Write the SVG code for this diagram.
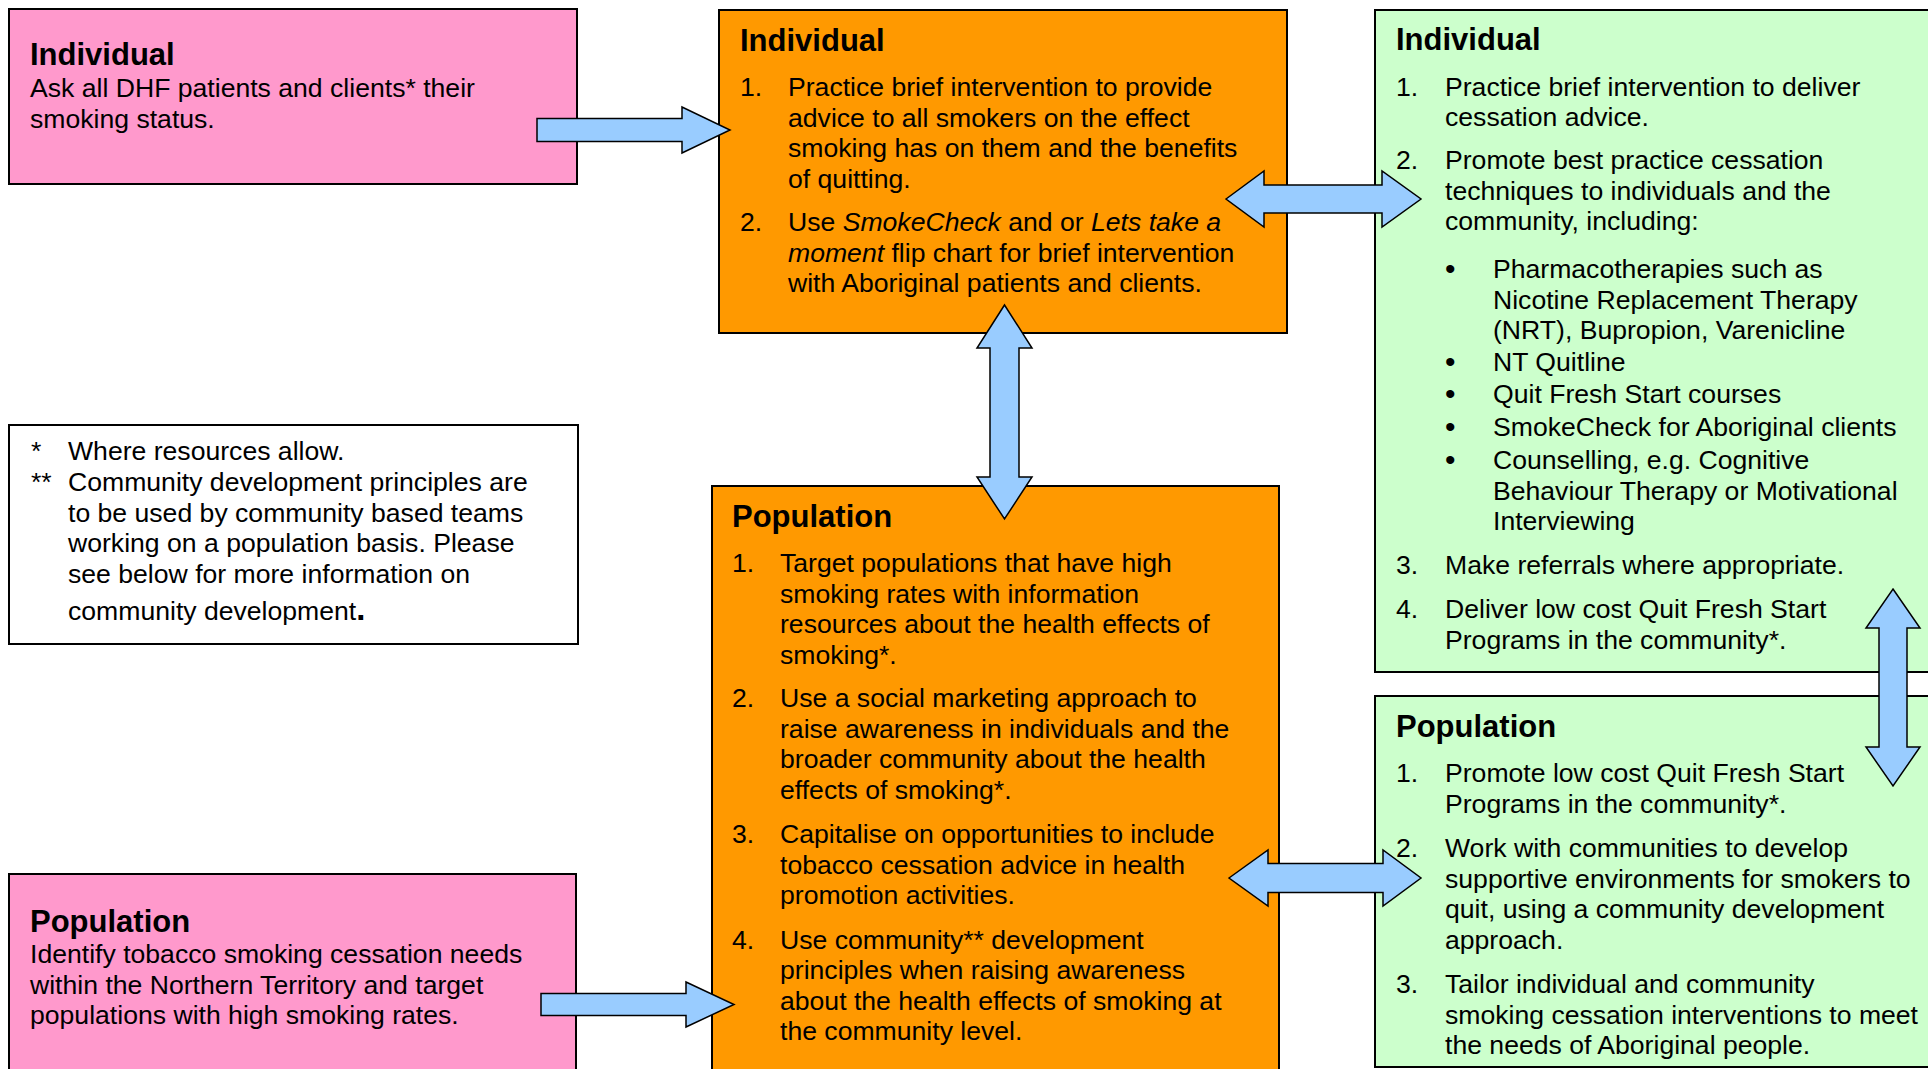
<svg xmlns="http://www.w3.org/2000/svg" width="1928" height="1069" viewBox="0 0 1928 1069">
<style>
.box{stroke:#000;stroke-width:2}
.pink{fill:#FF99CC}
.orange{fill:#FF9900}
.green{fill:#CCFFCC}
.note{fill:#FFFFFF}
text{font-family:"Liberation Sans",Arial,Helvetica,sans-serif;fill:#000}
.t{font-size:31px;font-weight:bold}
.b{font-size:26.6px}
.bul{font-size:30px}
.arrow{fill:#99CCFF;stroke:#000;stroke-width:1.5;stroke-linejoin:miter}
</style>
<rect width="1928" height="1069" fill="#FFFFFF"/>

<g id="pink-individual">
<rect class="box pink" x="9" y="9" width="568" height="175"/>
<text class="t" x="30" y="65">Individual</text>
<text class="b" x="30" y="97">Ask all DHF patients and clients* their</text>
<text class="b" x="30" y="127.6">smoking status.</text>
</g>

<g id="pink-population">
<rect class="box pink" x="9" y="874" width="567" height="205"/>
<text class="t" x="30" y="932">Population</text>
<text class="b" x="30" y="963">Identify tobacco smoking cessation needs</text>
<text class="b" x="30" y="993.6">within the Northern Territory and target</text>
<text class="b" x="30" y="1024.2">populations with high smoking rates.</text>
</g>

<g id="footnote">
<rect class="box note" x="9" y="425" width="569" height="219"/>
<text class="b" x="31" y="460">*</text>
<text class="b" x="68" y="460">Where resources allow.</text>
<text class="b" x="31" y="491">**</text>
<text class="b" x="68" y="491">Community development principles are</text>
<text class="b" x="68" y="521.6">to be used by community based teams</text>
<text class="b" x="68" y="552.2">working on a population basis. Please</text>
<text class="b" x="68" y="582.8">see below for more information on</text>
<text class="b" x="68" y="620">community development<tspan font-size="33" font-weight="bold">.</tspan></text>
</g>

<g id="orange-individual">
<rect class="box orange" x="719" y="10" width="568" height="323"/>
<text class="t" x="740" y="51">Individual</text>
<text class="b" x="740" y="96">1.</text>
<text class="b" x="788" y="96">Practice brief intervention to provide</text>
<text class="b" x="788" y="126.6">advice to all smokers on the effect</text>
<text class="b" x="788" y="157.2">smoking has on them and the benefits</text>
<text class="b" x="788" y="187.8">of quitting.</text>
<text class="b" x="740" y="231">2.</text>
<text class="b" x="788" y="231">Use <tspan font-style="italic">SmokeCheck</tspan> and or <tspan font-style="italic">Lets take a</tspan></text>
<text class="b" x="788" y="261.6"><tspan font-style="italic">moment</tspan> flip chart for brief intervention</text>
<text class="b" x="788" y="292.2">with Aboriginal patients and clients.</text>
</g>

<g id="orange-population">
<rect class="box orange" x="712" y="486" width="567" height="593"/>
<text class="t" x="732" y="527">Population</text>
<text class="b" x="732" y="572">1.</text>
<text class="b" x="780" y="572">Target populations that have high</text>
<text class="b" x="780" y="602.6">smoking rates with information</text>
<text class="b" x="780" y="633.2">resources about the health effects of</text>
<text class="b" x="780" y="663.8">smoking*.</text>
<text class="b" x="732" y="707">2.</text>
<text class="b" x="780" y="707">Use a social marketing approach to</text>
<text class="b" x="780" y="737.6">raise awareness in individuals and the</text>
<text class="b" x="780" y="768.2">broader community about the health</text>
<text class="b" x="780" y="798.8">effects of smoking*.</text>
<text class="b" x="732" y="843">3.</text>
<text class="b" x="780" y="843">Capitalise on opportunities to include</text>
<text class="b" x="780" y="873.6">tobacco cessation advice in health</text>
<text class="b" x="780" y="904.2">promotion activities.</text>
<text class="b" x="732" y="948.5">4.</text>
<text class="b" x="780" y="948.5">Use community** development</text>
<text class="b" x="780" y="979.1">principles when raising awareness</text>
<text class="b" x="780" y="1009.7">about the health effects of smoking at</text>
<text class="b" x="780" y="1040.3">the community level.</text>
</g>

<g id="green-individual">
<rect class="box green" x="1375" y="10" width="570" height="662"/>
<text class="t" x="1396" y="50">Individual</text>
<text class="b" x="1396" y="95.5">1.</text>
<text class="b" x="1445" y="95.5">Practice brief intervention to deliver</text>
<text class="b" x="1445" y="126.1">cessation advice.</text>
<text class="b" x="1396" y="169">2.</text>
<text class="b" x="1445" y="169">Promote best practice cessation</text>
<text class="b" x="1445" y="199.6">techniques to individuals and the</text>
<text class="b" x="1445" y="230.2">community, including:</text>
<text class="bul" x="1445" y="279">•</text>
<text class="b" x="1493" y="278">Pharmacotherapies such as</text>
<text class="b" x="1493" y="308.6">Nicotine Replacement Therapy</text>
<text class="b" x="1493" y="339.2">(NRT), Bupropion, Varenicline</text>
<text class="bul" x="1445" y="371.5">•</text>
<text class="b" x="1493" y="370.5">NT Quitline</text>
<text class="bul" x="1445" y="404">•</text>
<text class="b" x="1493" y="403">Quit Fresh Start courses</text>
<text class="bul" x="1445" y="437">•</text>
<text class="b" x="1493" y="436">SmokeCheck for Aboriginal clients</text>
<text class="bul" x="1445" y="470">•</text>
<text class="b" x="1493" y="469">Counselling, e.g. Cognitive</text>
<text class="b" x="1493" y="499.6">Behaviour Therapy or Motivational</text>
<text class="b" x="1493" y="530.2">Interviewing</text>
<text class="b" x="1396" y="573.5">3.</text>
<text class="b" x="1445" y="573.5">Make referrals where appropriate.</text>
<text class="b" x="1396" y="618">4.</text>
<text class="b" x="1445" y="618">Deliver low cost Quit Fresh Start</text>
<text class="b" x="1445" y="648.6">Programs in the community*.</text>
</g>

<g id="green-population">
<rect class="box green" x="1375" y="696" width="570" height="371"/>
<text class="t" x="1396" y="737">Population</text>
<text class="b" x="1396" y="782">1.</text>
<text class="b" x="1445" y="782">Promote low cost Quit Fresh Start</text>
<text class="b" x="1445" y="812.6">Programs in the community*.</text>
<text class="b" x="1396" y="857">2.</text>
<text class="b" x="1445" y="857">Work with communities to develop</text>
<text class="b" x="1445" y="887.6">supportive environments for smokers to</text>
<text class="b" x="1445" y="918.2">quit, using a community development</text>
<text class="b" x="1445" y="948.8">approach.</text>
<text class="b" x="1396" y="993">3.</text>
<text class="b" x="1445" y="993">Tailor individual and community</text>
<text class="b" x="1445" y="1023.6">smoking cessation interventions to meet</text>
<text class="b" x="1445" y="1054.2">the needs of Aboriginal people.</text>
</g>

<g id="connectors">
<polygon class="arrow" points="537,118.5 682,118.5 682,107 730,130 682,153 682,141.5 537,141.5"/>
<polygon class="arrow" points="541,993.5 686,993.5 686,982 734,1004.5 686,1027 686,1015.5 541,1015.5"/>
<polygon class="arrow" points="1226,199 1264,171 1264,185 1382,185 1382,171 1421,199 1382,227 1382,213 1264,213 1264,227"/>
<polygon class="arrow" points="1229,878 1268,850 1268,863.5 1383,863.5 1383,850 1421,878 1383,906 1383,892.5 1268,892.5 1268,906"/>
<polygon class="arrow" points="1004.5,305 1032,348 1019,348 1019,477 1032,477 1004.5,519 977,477 990,477 990,348 977,348"/>
<polygon class="arrow" points="1893,589 1920,628 1907,628 1907,747 1920,747 1893,786 1866,747 1879,747 1879,628 1866,628"/>
</g>
</svg>
